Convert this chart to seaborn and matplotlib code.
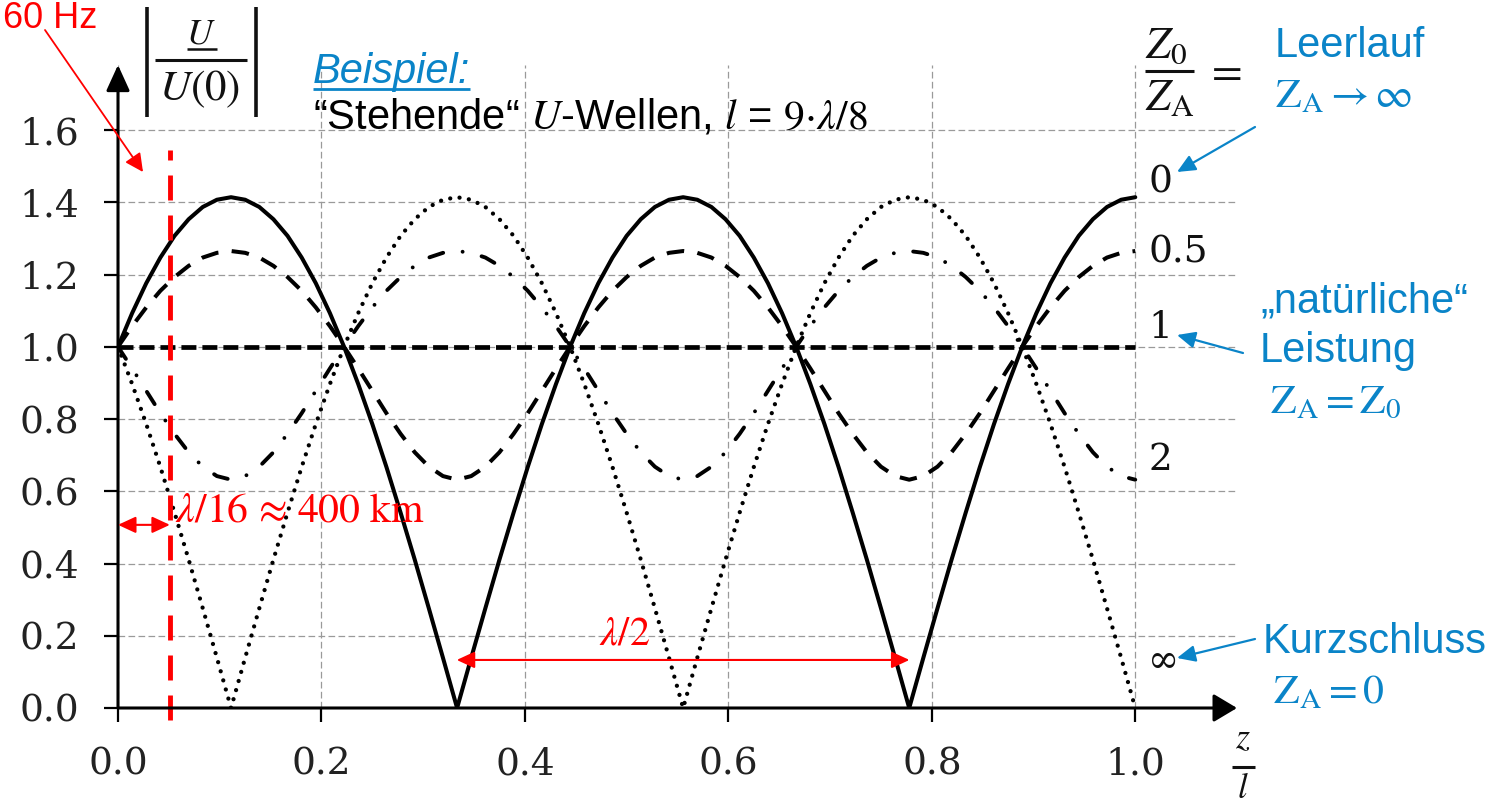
import numpy as np
import pandas as pd
import matplotlib
matplotlib.use("Agg")
import matplotlib.pyplot as plt
from matplotlib.patches import FancyArrowPatch
from matplotlib.lines import Line2D
import seaborn as sns

# ---------------------------------------------------------------------------
# Standing voltage waves |U(z)/U(0)| on a line of length l = 9*lambda/8
# ---------------------------------------------------------------------------
z_over_l = np.linspace(0.0, 1.0, 73)

# Z0/ZA = 0  (open circuit, Leerlauf)
u_open = [1.000, 1.093, 1.176, 1.247, 1.307, 1.353, 1.387, 1.407, 1.414,
          1.407, 1.387, 1.353, 1.307, 1.247, 1.176, 1.093, 1.000, 0.897, 0.786, 0.667, 0.541, 0.411, 0.276, 0.139, 0.000,
          0.139, 0.276, 0.411, 0.541, 0.667, 0.786, 0.897, 1.000, 1.093, 1.176, 1.247, 1.307, 1.353, 1.387, 1.407, 1.414,
          1.407, 1.387, 1.353, 1.307, 1.247, 1.176, 1.093, 1.000, 0.897, 0.786, 0.667, 0.541, 0.411, 0.276, 0.139, 0.000,
          0.139, 0.276, 0.411, 0.541, 0.667, 0.786, 0.897, 1.000, 1.093, 1.176, 1.247, 1.307, 1.353, 1.387, 1.407, 1.414]

# Z0/ZA = 0.5
u_half = [1.000, 1.057, 1.109, 1.155, 1.193, 1.224, 1.247, 1.260, 1.265,
          1.260, 1.247, 1.224, 1.193, 1.155, 1.109, 1.057, 1.000, 0.940, 0.878, 0.816, 0.759, 0.708, 0.668, 0.642, 0.632,
          0.642, 0.668, 0.708, 0.759, 0.816, 0.878, 0.940, 1.000, 1.057, 1.109, 1.155, 1.193, 1.224, 1.247, 1.260, 1.265,
          1.260, 1.247, 1.224, 1.193, 1.155, 1.109, 1.057, 1.000, 0.940, 0.878, 0.816, 0.759, 0.708, 0.668, 0.642, 0.632,
          0.642, 0.668, 0.708, 0.759, 0.816, 0.878, 0.940, 1.000, 1.057, 1.109, 1.155, 1.193, 1.224, 1.247, 1.260, 1.265]

# Z0/ZA = 1  (matched load, natural power)
u_matched = [1.0] * 73

# Z0/ZA = 2
u_two = [1.000, 0.940, 0.878, 0.816, 0.759, 0.708, 0.668, 0.642, 0.632,
         0.642, 0.668, 0.708, 0.759, 0.816, 0.878, 0.940, 1.000, 1.057, 1.109, 1.155, 1.193, 1.224, 1.247, 1.260, 1.265,
         1.260, 1.247, 1.224, 1.193, 1.155, 1.109, 1.057, 1.000, 0.940, 0.878, 0.816, 0.759, 0.708, 0.668, 0.642, 0.632,
         0.642, 0.668, 0.708, 0.759, 0.816, 0.878, 0.940, 1.000, 1.057, 1.109, 1.155, 1.193, 1.224, 1.247, 1.260, 1.265,
         1.260, 1.247, 1.224, 1.193, 1.155, 1.109, 1.057, 1.000, 0.940, 0.878, 0.816, 0.759, 0.708, 0.668, 0.642, 0.632]

# Z0/ZA = inf  (short circuit, Kurzschluss)
u_short = [1.000, 0.897, 0.786, 0.667, 0.541, 0.411, 0.276, 0.139, 0.000,
           0.139, 0.276, 0.411, 0.541, 0.667, 0.786, 0.897, 1.000, 1.093, 1.176, 1.247, 1.307, 1.353, 1.387, 1.407, 1.414,
           1.407, 1.387, 1.353, 1.307, 1.247, 1.176, 1.093, 1.000, 0.897, 0.786, 0.667, 0.541, 0.411, 0.276, 0.139, 0.000,
           0.139, 0.276, 0.411, 0.541, 0.667, 0.786, 0.897, 1.000, 1.093, 1.176, 1.247, 1.307, 1.353, 1.387, 1.407, 1.414,
           1.407, 1.387, 1.353, 1.307, 1.247, 1.176, 1.093, 1.000, 0.897, 0.786, 0.667, 0.541, 0.411, 0.276, 0.139, 0.000]

ratio_labels = ["0", "0.5", "1", "2", "\u221e"]
ratio_label_y = [1.456, 1.262, 1.052, 0.686, 0.126]

x_ticks = [0.0, 0.2, 0.4, 0.6, 0.8, 1.0]
x_ticklabels = ["0.0", "0.2", "0.4", "0.6", "0.8", "1.0"]
y_ticks = [0.0, 0.2, 0.4, 0.6, 0.8, 1.0, 1.2, 1.4, 1.6]
y_ticklabels = ["0.0", "0.2", "0.4", "0.6", "0.8", "1.0", "1.2", "1.4", "1.6"]

pos_60hz = 0.051            # lambda/16 distance from the line start
half_wave = (0.333, 0.778)  # neighbouring minima of the open-circuit curve

# ---------------------------------------------------------------------------
sns.set_theme(style="white")
plt.rcParams["lines.scale_dashes"] = False
plt.rcParams["mathtext.fontset"] = "stix"
plt.rcParams["font.family"] = ["DejaVu Serif"]

W, H = 1499, 808
fig = plt.figure(figsize=(W / 100, H / 100), dpi=100)
fig.patch.set_facecolor("white")


def fp(px, py):
    """pixel position (origin top-left) -> figure fraction"""
    return (px / W, 1.0 - py / H)


def hline(x0, x1, y, color="#111111", lw=2.2):
    fig.add_artist(Line2D([x0 / W, x1 / W], [1 - y / H, 1 - y / H],
                          transform=fig.transFigure, color=color, lw=lw,
                          solid_capstyle="butt"))


def vline(x, y0, y1, color="#111111", lw=2.5):
    fig.add_artist(Line2D([x / W, x / W], [1 - y0 / H, 1 - y1 / H],
                          transform=fig.transFigure, color=color, lw=lw,
                          solid_capstyle="butt"))


ax = fig.add_axes([118 / W, 1 - 708 / H, (1237 - 118) / W, (708 - 65) / H])
ax.set_facecolor("white")
ax.set_xlim(0, 1.10)
ax.set_ylim(0, 1.78)

BLUE = "#0A84C8"
RED = "#FF0000"
INK = "#111111"

series = {
    "\u221e": (u_short, dict(lw=3.1, linestyle=(0, (0.01, 6.8)), dash_capstyle="round")),
    "2": (u_two, dict(lw=2.8, linestyle=(0, (10.4, 14.1, 0.01, 14.1)), dash_capstyle="round")),
    "0.5": (u_half, dict(lw=2.9, linestyle=(0, (12.6, 9.6)), dash_capstyle="butt")),
    "1": (u_matched, dict(lw=3.4, linestyle=(0, (10.8, 4.3)), dash_capstyle="butt")),
    "0": (u_open, dict(lw=2.9, linestyle="-")),
}
for key, (vals, style) in series.items():
    df = pd.DataFrame({"z": z_over_l, "u": vals})
    sns.lineplot(data=df, x="z", y="u", ax=ax, color="black", errorbar=None,
                 zorder=3, **style)

ax.set_xlabel("")
ax.set_ylabel("")

# grid
ax.grid(True, color="#9a9a9a", lw=0.9, linestyle=(0, (4.8, 2.4)))
ax.set_axisbelow(True)

# ticks
ax.set_xticks(x_ticks)
ax.set_xticklabels(x_ticklabels, fontfamily="DejaVu Serif", fontsize=27, color="#222222")
ax.set_yticks(y_ticks)
ax.set_yticklabels(y_ticklabels, fontfamily="DejaVu Serif", fontsize=27, color="#222222")
ax.tick_params(axis="both", which="major", direction="out", length=10, width=1.6,
               color="black", pad=18, bottom=True, left=True)
for sp in ax.spines.values():
    sp.set_visible(False)

# axes with arrow heads
ax.annotate("", xy=(1, 0), xytext=(0, 0), xycoords="axes fraction", textcoords="axes fraction",
            arrowprops=dict(arrowstyle="-|>,head_length=14.4,head_width=8.6", mutation_scale=1,
                            lw=2.2, color="black", shrinkA=0, shrinkB=0), zorder=5)
ax.annotate("", xy=(0, 1), xytext=(0, 0), xycoords="axes fraction", textcoords="axes fraction",
            arrowprops=dict(arrowstyle="-|>,head_length=15.8,head_width=7.2", mutation_scale=1,
                            lw=2.2, color="black", shrinkA=0, shrinkB=0), zorder=5)

# curve labels Z0/ZA
for lab, yv in zip(ratio_labels, ratio_label_y):
    ax.text(1.013, yv, lab, ha="left", va="center", fontsize=27,
            fontfamily="DejaVu Serif", color=INK, clip_on=False)

# y title |U / U(0)|
fig.text(*fp(201, 44), r"$U$", fontsize=26, ha="center", va="baseline", color=INK)
hline(187, 217, 49, lw=1.8)
hline(155, 247, 60, lw=2.2)
fig.text(*fp(200, 100), r"$U(0)$", fontsize=31, ha="center", va="baseline", color=INK)
vline(147, 7, 117, lw=2.6)
vline(256, 7, 117, lw=2.6)

# Z0/ZA =
fig.text(*fp(1145, 58), r"$Z_0$", fontsize=32, ha="left", va="baseline", color=INK)
hline(1145, 1194, 71, lw=2.2)
fig.text(*fp(1145, 110), r"$Z_\mathrm{A}$", fontsize=32, ha="left", va="baseline", color=INK)
fig.text(*fp(1205, 83), r"$=$", fontsize=32, ha="left", va="baseline", color=INK)

# x title z / l
fig.text(*fp(1243, 748), r"$z$", fontsize=26, ha="center", va="baseline", color=INK)
hline(1232, 1255, 767, lw=2.2)
fig.text(*fp(1243, 798), r"$l$", fontsize=25, ha="center", va="baseline", color=INK)

# 60 Hz marker
ax.axvline(pos_60hz, ymin=-0.0187, ymax=0.868, color=RED, lw=3.5,
           linestyle=(0, (18, 10.8)), clip_on=False, zorder=4)
fig.text(*fp(3, 28), "60 Hz", color=RED, fontsize=26, fontfamily="Liberation Sans", va="baseline")
fig.add_artist(FancyArrowPatch(fp(45, 30), fp(143, 172), transform=fig.transFigure,
                               arrowstyle="-|>,head_length=11,head_width=5.5", mutation_scale=1,
                               lw=1.3, color=RED, shrinkA=0, shrinkB=0))

ax.annotate("", xy=(pos_60hz, 0.507), xytext=(0, 0.507),
            arrowprops=dict(arrowstyle="<|-|>,head_length=10.8,head_width=5", mutation_scale=1,
                            lw=1.5, color=RED, shrinkA=0, shrinkB=0), zorder=6)
fig.text(*fp(175, 522), "$\\lambda$/16 \u2248 400 km", color=RED, fontsize=30,
         fontfamily=["STIXGeneral", "DejaVu Serif"], va="baseline", ha="left")

ax.annotate("", xy=(half_wave[1], 0.133), xytext=(half_wave[0], 0.133),
            arrowprops=dict(arrowstyle="<|-|>,head_length=10.8,head_width=5", mutation_scale=1,
                            lw=1.5, color=RED, shrinkA=0, shrinkB=0), zorder=6)
ax.text(0.498, 0.175, r"$\lambda/2$", color=RED, fontsize=29, ha="center", va="baseline")

# heading
t_beispiel = fig.text(*fp(313, 83), "Beispiel:", color=BLUE, fontsize=30, style="italic",
                      fontfamily="Liberation Sans", va="baseline", ha="left")
fig.text(*fp(313, 128), "\u201cStehende\u201c $U$-Wellen, $l$ = $9{\\cdot}\\lambda/8$", color="black",
         fontsize=30, fontfamily="Liberation Sans", va="baseline", ha="left")

# load descriptions
sans = dict(color=BLUE, fontsize=30, fontfamily="Liberation Sans", va="baseline", ha="left")
serif = dict(color=BLUE, fontsize=30, va="baseline", ha="left")
fig.text(*fp(1275, 57), "Leerlauf", **sans)
fig.text(*fp(1275, 107), r"$\mathrm{Z}_\mathrm{A} \rightarrow \infty$", **serif)
fig.text(*fp(1260, 313), "\u201enat\u00fcrliche\u201c", **sans)
fig.text(*fp(1260, 362), "Leistung", **sans)
fig.text(*fp(1270, 413), r"$\mathrm{Z}_\mathrm{A} = \mathrm{Z}_0$", **serif)
fig.text(*fp(1263, 653), "Kurzschluss", **sans)
fig.text(*fp(1273, 703), r"$\mathrm{Z}_\mathrm{A} = 0$", **serif)

for a, b in [((1255, 127), (1177, 172)), ((1243, 353), (1177, 335)), ((1255, 639), (1177, 658))]:
    fig.add_artist(FancyArrowPatch(fp(*a), fp(*b), transform=fig.transFigure,
                                   arrowstyle="-|>,head_length=11,head_width=5", mutation_scale=1,
                                   lw=1.6, color=BLUE, shrinkA=0, shrinkB=0))

# underline below the heading
fig.canvas.draw()
bb = t_beispiel.get_window_extent()
hline(bb.x0, bb.x1, 89, color=BLUE, lw=2.0)

fig.savefig("out.png", dpi=100, facecolor="white")
